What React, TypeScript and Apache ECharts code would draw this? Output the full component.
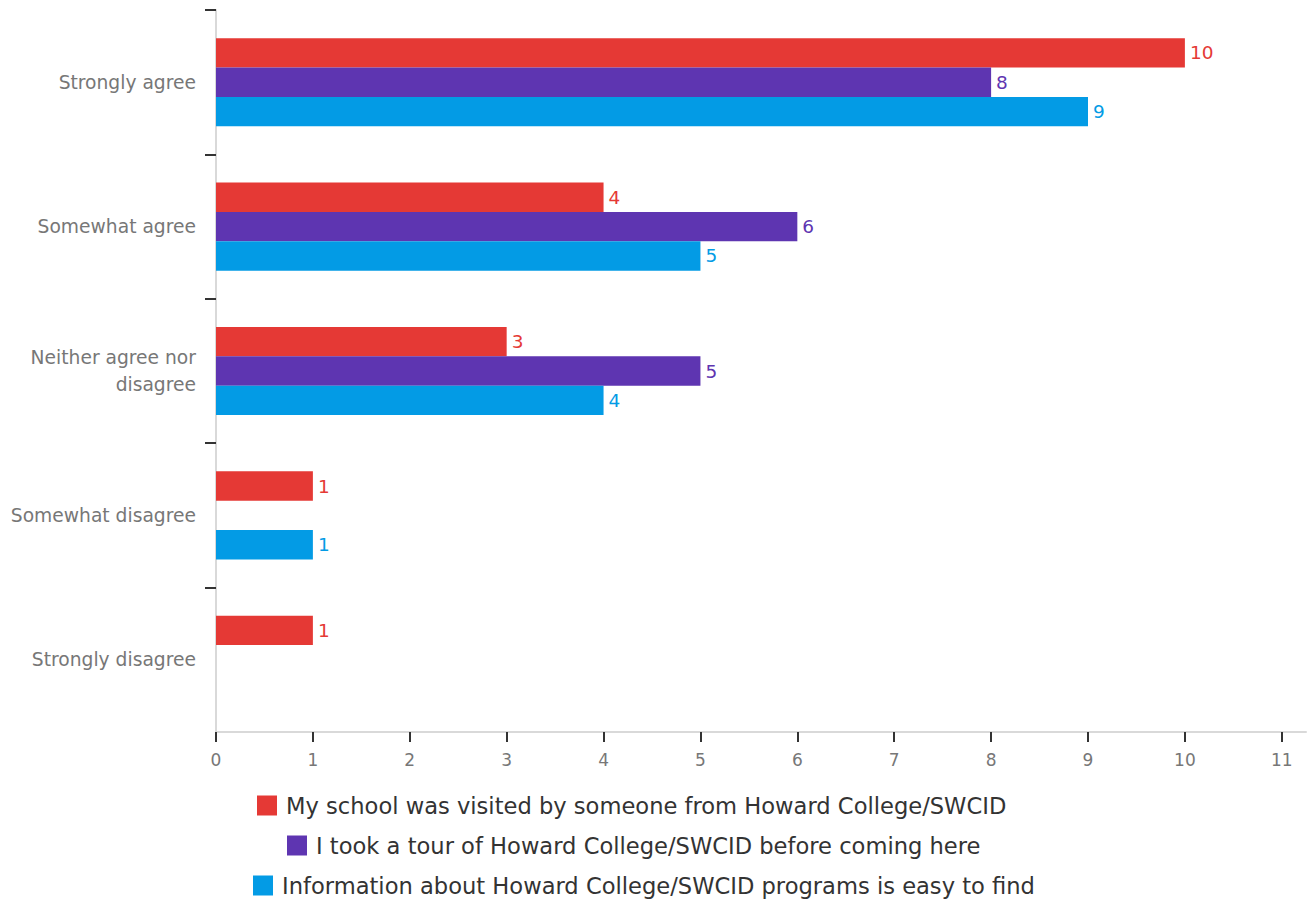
import React, { useEffect, useRef } from "react";
import * as echarts from "echarts";

const categories = [
  "Strongly agree",
  "Somewhat agree",
  "Neither agree nor\ndisagree",
  "Somewhat disagree",
  "Strongly disagree",
];
const seriesNames = [
  "My school was visited by someone from Howard College/SWCID",
  "I took a tour of Howard College/SWCID before coming here",
  "Information about Howard College/SWCID programs is easy to find",
];
const visitedValues = [10, 4, 3, 1, 1];
const tourValues = [8, 6, 5, null, null];
const infoValues = [9, 5, 4, 1, null];
const xTicks = [0, 1, 2, 3, 4, 5, 6, 7, 8, 9, 10, 11];
const yBoundaryTicks = [0, 1, 2, 3, 4];
const colors = ["#e53935", "#5e35b1", "#039be5"];

const FONT = "DejaVu Sans";

export default function App() {
  const ref = useRef<HTMLDivElement>(null);
  useEffect(() => {
    if (!ref.current) return;
    const chart = echarts.init(ref.current, undefined, { renderer: "svg" });
    const values = [visitedValues, tourValues, infoValues];
    const legendLefts = [257, 287, 253];
    const legendTops = [794, 834, 874];
    chart.setOption({
      animation: false,
      textStyle: { fontFamily: FONT },
      grid: { left: 216, top: 10, right: 3, bottom: 169, containLabel: false },
      legend: seriesNames.map((n, i) => ({
        data: [n],
        left: legendLefts[i],
        top: legendTops[i],
        itemWidth: 20,
        itemHeight: 20,
        itemGap: 10,
        padding: 0,
        selectedMode: false,
        icon: "rect",
        textStyle: { fontFamily: FONT, fontSize: 22.6, color: "#333", padding: [0, 0, 0, 4] },
      })),
      xAxis: {
        type: "value",
        position: "bottom",
        min: 0,
        max: 11.25,
        interval: 1,
        splitLine: { show: false },
        axisLine: { show: true, onZero: false, lineStyle: { color: "#d9d9d9", width: 2 } },
        axisTick: { show: true, length: 10, customValues: xTicks, lineStyle: { color: "#333", width: 2 } },
        axisLabel: { customValues: xTicks, margin: 19, fontSize: 17, color: "#777", fontFamily: FONT },
      },
      yAxis: [
        {
          type: "category",
          data: categories,
          inverse: true,
          axisLine: { show: true, onZero: false, lineStyle: { color: "#d9d9d9", width: 2 } },
          axisTick: { show: false },
          axisLabel: { margin: 20, fontSize: 18.7, color: "#777", fontFamily: FONT, lineHeight: 27, align: "right" },
        },
        {
          type: "value",
          min: 0,
          max: 5,
          interval: 1,
          inverse: true,
          position: "left",
          splitLine: { show: false },
          axisLine: { show: false, onZero: false },
          axisLabel: { show: false },
          axisTick: { show: true, length: 11, customValues: yBoundaryTicks, lineStyle: { color: "#333", width: 2 } },
        },
      ],
      series: seriesNames.map((n, i) => ({
        name: n,
        type: "bar",
        yAxisIndex: 0,
        data: values[i],
        barGap: "0%",
        barCategoryGap: "39%",
        itemStyle: { color: colors[i] },
        label: {
          show: true,
          position: "right",
          distance: 5,
          fontSize: 18.5,
          color: colors[i],
          fontFamily: FONT,
        },
      })),
    });
    return () => chart.dispose();
  }, []);
  return (
    <div
      ref={ref}
      style={{ position: "absolute", left: 0, top: 0, width: 1309, height: 901 }}
    />
  );
}
